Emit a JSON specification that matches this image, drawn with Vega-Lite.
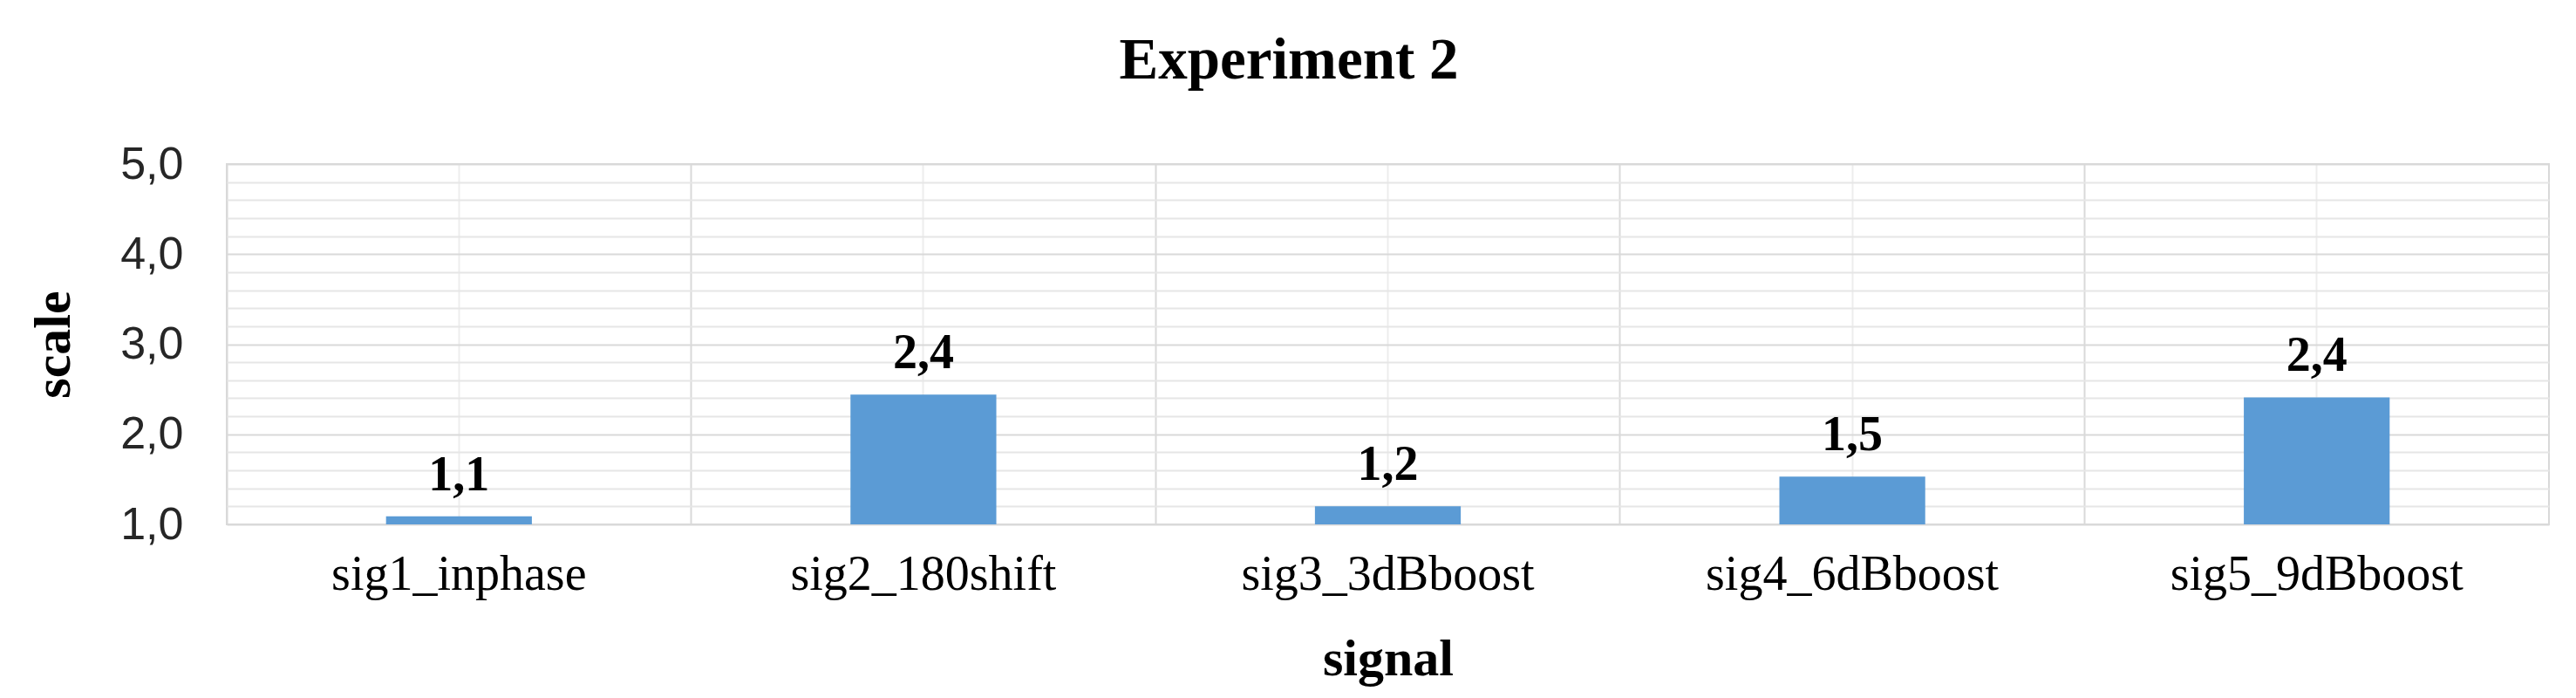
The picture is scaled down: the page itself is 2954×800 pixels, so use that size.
{
  "$schema": "https://vega.github.io/schema/vega-lite/v6.json",
  "width": 2663,
  "height": 413,
  "autosize": {"type": "none"},
  "padding": {"left": 260, "top": 188, "right": 31, "bottom": 199},
  "background": "white",
  "config": {
    "view": {"stroke": "#d9d9d9", "strokeWidth": 2},
    "locale": {
      "number": {"decimal": ",", "thousands": ".", "grouping": [3], "currency": ["", " €"]}
    }
  },
  "title": {
    "text": "Experiment 2",
    "font": "Liberation Serif",
    "fontSize": 67,
    "fontWeight": "bold",
    "color": "black",
    "frame": "group",
    "anchor": "start",
    "align": "center",
    "dx": 1218,
    "baseline": "alphabetic",
    "offset": 5
  },
  "data": {
    "values": [
      {"signal": "sig1_inphase", "scale": 1.09},
      {"signal": "sig2_180shift", "scale": 2.44},
      {"signal": "sig3_3dBboost", "scale": 1.2},
      {"signal": "sig4_6dBboost", "scale": 1.53},
      {"signal": "sig5_9dBboost", "scale": 2.41}
    ]
  },
  "layer": [
    {
      "mark": {"type": "bar", "color": "#5B9BD5", "width": {"band": 0.314}},
      "encoding": {
        "x": {
          "field": "signal",
          "type": "nominal",
          "sort": null,
          "scale": {"paddingInner": 0, "paddingOuter": 0},
          "axis": {
            "orient": "bottom",
            "bandPosition": 0,
            "labels": false,
            "ticks": false,
            "domain": false,
            "grid": true,
            "gridColor": "#d9d9d9",
            "gridWidth": 2,
            "title": null
          }
        },
        "y": {
          "field": "scale",
          "type": "quantitative",
          "scale": {"domain": [1, 5], "nice": false, "zero": false},
          "axis": {
            "orient": "left",
            "values": [1.2, 1.4, 1.6, 1.8, 2.2, 2.4, 2.6, 2.8, 3.2, 3.4, 3.6, 3.8, 4.2, 4.4, 4.6, 4.8],
            "labels": false,
            "ticks": false,
            "domain": false,
            "grid": true,
            "gridColor": "#e6e6e6",
            "gridWidth": 2,
            "title": null
          }
        },
        "y2": {"datum": 1}
      }
    },
    {
      "mark": {
        "type": "text",
        "font": "Liberation Serif",
        "fontSize": 56,
        "fontWeight": "bold",
        "color": "black",
        "baseline": "alphabetic",
        "dy": -30
      },
      "encoding": {
        "x": {
          "field": "signal",
          "type": "nominal",
          "sort": null,
          "axis": {
            "orient": "bottom",
            "bandPosition": 0.5,
            "grid": true,
            "gridColor": "#ededed",
            "gridWidth": 2,
            "ticks": false,
            "domain": false,
            "labelAngle": 0,
            "labelLimit": 0,
            "labelFont": "Liberation Serif",
            "labelFontSize": 56,
            "labelColor": "black",
            "labelPadding": 30,
            "title": "signal",
            "titleFont": "Liberation Serif",
            "titleFontSize": 60,
            "titleFontWeight": "bold",
            "titleColor": "black",
            "titlePadding": 40
          }
        },
        "y": {
          "field": "scale",
          "type": "quantitative",
          "axis": {
            "orient": "left",
            "values": [1, 2, 3, 4, 5],
            "format": ".1f",
            "grid": true,
            "gridColor": "#d9d9d9",
            "gridWidth": 2,
            "ticks": false,
            "domain": false,
            "labelFont": "Liberation Sans",
            "labelFontSize": 52,
            "labelColor": "#262626",
            "labelPadding": 50,
            "labelOverlap": false,
            "title": "scale",
            "titleFont": "Liberation Serif",
            "titleFontSize": 60,
            "titleFontWeight": "bold",
            "titleColor": "black",
            "titlePadding": 45
          }
        },
        "text": {"field": "scale", "type": "quantitative", "format": ".1f"}
      }
    }
  ],
  "resolve": {"axis": {"x": "independent", "y": "independent"}}
}
